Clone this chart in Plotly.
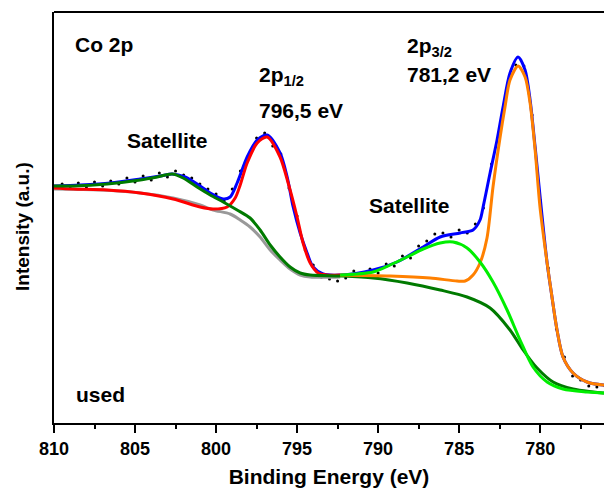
import plotly.graph_objects as go

# ---- data (Binding energy in eV, intensity in a.u.) ----
data_E = [810.0, 809.5, 809.0, 808.5, 808.0, 807.5, 807.0, 806.5, 806.0, 805.5, 805.0, 804.5,
          804.0, 803.5, 803.0, 802.5, 802.0, 801.5, 801.0, 800.5, 800.0, 799.5, 799.0, 798.5,
          798.0, 797.5, 797.0, 796.5, 796.0, 795.5, 795.0, 794.5, 794.0, 793.5, 793.0, 792.5,
          792.0, 791.5, 791.0, 790.5, 790.0, 789.5, 789.0, 788.5, 788.0, 787.5, 787.0, 786.5,
          786.0, 785.5, 785.0, 784.5, 784.0, 783.5, 783.0, 782.5, 782.0, 781.5, 781.0, 780.5,
          780.0, 779.5, 779.0, 778.5, 778.0, 777.5, 777.0, 776.5, 776.0]
data_I = [236, 239, 235, 240, 236, 241, 237, 242, 239, 245, 241, 247,
          243, 250, 246, 252, 248, 245, 239, 234, 229, 222, 234, 252,
          266, 285, 290, 277, 269, 235, 207, 173, 158, 146, 144, 142,
          145, 152, 147, 154, 150, 159, 157, 167, 165, 177, 182, 189,
          190, 186, 193, 190, 199, 215, 259, 294, 337, 358, 357, 308,
          223, 155, 94, 66, 47, 43, 37, 36, 37]

env_E = [810.0, 808.38, 806.53, 804.68, 803.45, 802.71, 801.91, 800.98, 800.36, 799.56, 799.13,
         798.70, 798.08, 797.46, 796.85, 796.05, 795.61, 795.24, 794.81, 794.38, 794.01, 793.39,
         792.34, 790.31, 788.83, 787.22, 786.17, 784.94, 784.14, 783.71, 783.52, 783.09, 782.66,
         782.29, 781.86, 781.36, 780.93, 780.62, 780.31, 779.94, 779.57, 779.27, 778.96, 778.59,
         777.97, 777.11, 776.12, 775.9]
env_I = [237, 238, 240, 244, 247, 249, 246, 237, 230, 224, 226,
         240, 266, 283, 288, 270, 246, 216, 190, 170, 156, 149,
         148, 153, 161, 176, 186, 190, 193, 203, 216, 250, 283,
         316, 350, 366, 353, 323, 276, 216, 160, 126, 93, 66,
         50, 41, 38, 38]

p12_E = [810.0, 808.82, 806.72, 804.68, 802.65, 800.98, 800.18, 799.32, 798.82, 798.51, 798.08,
         797.46, 796.85, 796.05, 795.55, 795.00, 794.63, 794.19, 793.70, 793.15, 792.34]
p12_I = [235, 234, 233, 230, 224, 216, 214, 216, 225, 238, 260,
         280, 286, 266, 240, 206, 180, 160, 150, 148, 148]

bg_E = [810.0, 807.15, 804.68, 802.65, 800.98, 800.18, 799.13, 798.51, 797.90, 797.28, 796.66,
        796.05, 795.43, 794.81, 794.19, 792.34]
bg_I = [234, 233, 230, 225, 218, 213, 209, 203, 196, 186, 173,
        163, 154, 148, 146, 146]

sat12_E = [810.0, 808.82, 806.72, 804.68, 803.63, 802.71, 802.03, 801.17, 800.36, 799.56, 798.70,
           797.90, 797.28, 796.66, 796.05, 795.43, 794.81, 794.19, 792.34, 790.31, 788.21, 786.17,
           784.51, 783.09, 781.86, 781.05, 780.19, 779.20, 777.97, 776.12, 775.9]
sat12_I = [237, 237, 239, 243, 246, 249, 245, 236, 228, 221, 213,
           205, 193, 178, 166, 156, 150, 148, 147, 145, 140, 133,
           126, 115, 93, 73, 55, 41, 34, 30, 30]

sat32_E = [792.34, 790.31, 789.26, 788.21, 787.22, 786.17, 785.37, 784.51, 783.71, 782.91, 782.04,
           781.24, 780.44, 779.57, 778.59, 777.11, 776.12, 775.9]
sat32_I = [148, 151, 158, 166, 174, 180, 181, 175, 161, 141, 113,
           83, 56, 41, 34, 31, 30, 30]

p32_E = [792.34, 789.26, 786.79, 785.13, 784.63, 784.14, 783.71, 783.28, 782.91, 782.47, 782.17,
         781.86, 781.36, 780.93, 780.62, 780.31, 780.01, 779.57, 779.27, 778.96, 778.59, 777.97,
         777.11, 776.12, 775.9]
p32_I = [148, 147, 145, 142, 142, 148, 160, 185, 236, 286, 316,
         343, 357, 346, 320, 273, 216, 160, 126, 93, 66, 50,
         41, 38, 38]

x_ticks = [810, 805, 800, 795, 790, 785, 780, 775, 770]

FONT = "Liberation Sans, Arial, sans-serif"

fig = go.Figure()
fig.add_trace(go.Scatter(x=data_E, y=data_I, mode="markers",
                         marker=dict(color="black", size=3), hoverinfo="skip"))
line_style = dict(shape="spline", smoothing=0.8, width=3)
fig.add_trace(go.Scatter(x=bg_E, y=bg_I, mode="lines", line=dict(color="#999999", **line_style)))
fig.add_trace(go.Scatter(x=env_E, y=env_I, mode="lines", line=dict(color="#0000FF", **line_style)))
fig.add_trace(go.Scatter(x=p12_E, y=p12_I, mode="lines", line=dict(color="#FF0000", **line_style)))
fig.add_trace(go.Scatter(x=sat12_E, y=sat12_I, mode="lines", line=dict(color="#007A00", **line_style)))
fig.add_trace(go.Scatter(x=p32_E, y=p32_I, mode="lines", line=dict(color="#FF8000", **line_style)))
fig.add_trace(go.Scatter(x=sat32_E, y=sat32_I, mode="lines", line=dict(color="#00EE00", **line_style)))

ann_font = dict(family=FONT, size=21, color="black")
labels = [
    ("<b>Co 2p</b>", 808.82, 379),
    ("<b>2p<sub>1/2</sub></b>", 797.46, 347),
    ("<b>796,5 eV</b>", 797.46, 313),
    ("<b>Satellite</b>", 805.6, 283),
    ("<b>2p<sub>3/2</sub></b>", 788.33, 376),
    ("<b>781,2 eV</b>", 788.33, 349),
    ("<b>Satellite</b>", 790.68, 218),
    ("<b>used</b>", 808.75, 29),
]
annotations = [dict(text=t, x=x, y=y, xref="x", yref="y", xanchor="left", yanchor="middle",
                    showarrow=False, font=ann_font) for t, x, y in labels]
annotations.append(dict(text="<b>Intensity (a.u.)</b>", xref="paper", yref="paper",
                        x=(22 - 54) / 550.0, y=(423 - 227) / 411.0, textangle=-90,
                        xanchor="center", yanchor="middle", showarrow=False,
                        font=dict(family=FONT, size=19, color="black")))

fig.update_layout(
    width=604, height=495,
    margin=dict(l=54, r=0, t=12, b=72),
    paper_bgcolor="white", plot_bgcolor="white",
    showlegend=False,
    annotations=annotations,
    shapes=[dict(type="line", xref="paper", yref="paper", x0=0, x1=1, y0=1, y1=1,
                 line=dict(color="black", width=2))],
)
fig.update_xaxes(
    range=[810, 776.06], tickvals=x_ticks, ticktext=[f"<b>{v}</b>" for v in x_ticks],
    ticks="outside", ticklen=8, tickwidth=2, tickcolor="black",
    minor=dict(dtick=2.5, tick0=810, ticks="outside", ticklen=4, tickwidth=2, tickcolor="black"),
    showline=True, linecolor="black", linewidth=2, showgrid=False, zeroline=False,
    tickfont=dict(family=FONT, size=18, color="black"),
    title=dict(text="<b>Binding Energy (eV)</b>", font=dict(family=FONT, size=21, color="black"),
               standoff=12),
)
fig.update_yaxes(
    range=[0, 411], showticklabels=False, ticks="", showline=True, linecolor="black",
    linewidth=2, showgrid=False, zeroline=False,
)

fig.write_html("out.html")
